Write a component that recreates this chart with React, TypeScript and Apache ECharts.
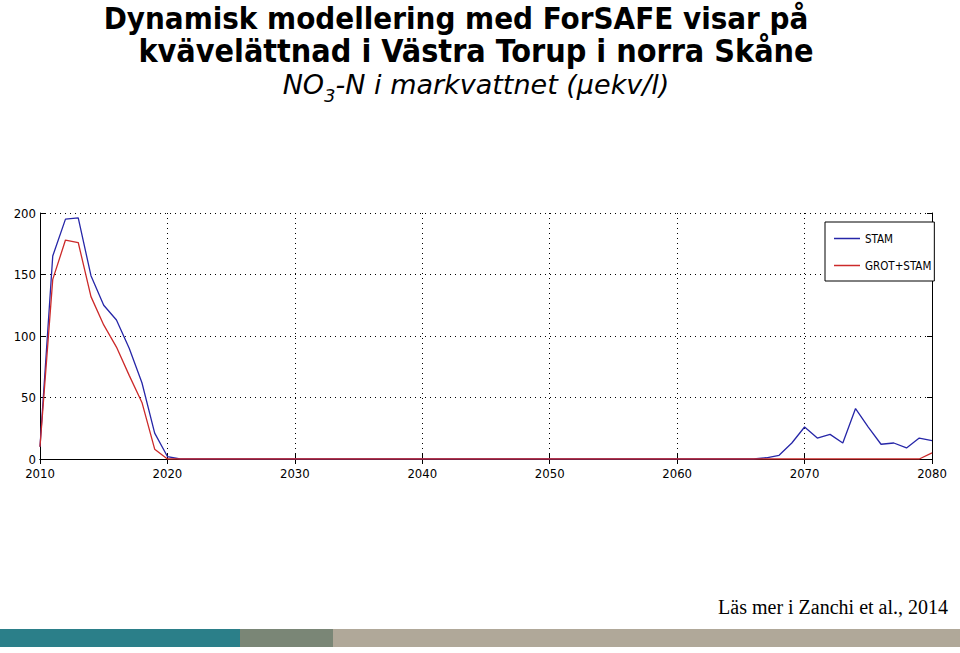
import { useEffect, useRef } from "react";
import * as echarts from "echarts";

// years 2010..2080, one value per year
const startYear = 2010;
const years = Array.from({ length: 71 }, (_, i) => startYear + i);

// STAM (blue)
const stam = [
  10, 165, 195, 196, 149, 125, 113, 90, 62, 21, // 2010-2019
  2, 0, 0, 0, 0, 0, 0, 0, 0, 0, // 2020-2029
  0, 0, 0, 0, 0, 0, 0, 0, 0, 0, // 2030-2039
  0, 0, 0, 0, 0, 0, 0, 0, 0, 0, // 2040-2049
  0, 0, 0, 0, 0, 0, 0, 0, 0, 0, // 2050-2059
  0, 0, 0, 0, 0, 0, 0, 1, 3, 13, // 2060-2069
  26, 17, 20, 13, 41, 26, 12, 13, 9, 17, // 2070-2079
  15, // 2080
];

// GROT+STAM (red)
const grotStam = [
  10, 146, 178, 176, 132, 109, 91, 68, 46, 8, // 2010-2019
  0, 0, 0, 0, 0, 0, 0, 0, 0, 0, // 2020-2029
  0, 0, 0, 0, 0, 0, 0, 0, 0, 0, // 2030-2039
  0, 0, 0, 0, 0, 0, 0, 0, 0, 0, // 2040-2049
  0, 0, 0, 0, 0, 0, 0, 0, 0, 0, // 2050-2059
  0, 0, 0, 0, 0, 0, 0, 0, 0, 0, // 2060-2069
  0, 0, 0, 0, 0, 0, 0, 0, 0, 0, // 2070-2079
  5, // 2080
];

const xTickLabels = ["2010", "2020", "2030", "2040", "2050", "2060", "2070", "2080"];
const yTickLabels = ["0", "50", "100", "150", "200"];

const narrow = "'Liberation Sans Narrow', 'DejaVu Sans Condensed', 'Roboto', sans-serif";
const titleFont = "'DejaVu Sans Condensed', 'DejaVu Sans', sans-serif";

export default function App() {
  const chartRef = useRef<HTMLDivElement>(null);

  useEffect(() => {
    if (!chartRef.current) return;
    const chart = echarts.init(chartRef.current, null, { renderer: "svg" });

    const xMin = Number(xTickLabels[0]);
    const xMax = Number(xTickLabels[xTickLabels.length - 1]);
    const yMin = Number(yTickLabels[0]);
    const yMax = Number(yTickLabels[yTickLabels.length - 1]);

    const tickStyle = { inside: true, length: 5, lineStyle: { color: "#000", width: 1 } };
    const lineAxis = { lineStyle: { color: "#000", width: 1 } };
    const labelStyle = { color: "#000", fontFamily: narrow, fontSize: 13 };
    const dotted = { show: true, lineStyle: { color: "#000", type: [1, 4], width: 1 } };
    const sub = {
      fontFamily: "'DejaVu Sans', sans-serif",
      fontStyle: "italic",
      fontWeight: "normal",
      color: "#000",
      verticalAlign: "bottom",
    };

    chart.setOption({
      animation: false,
      backgroundColor: "#fff",
      title: [
        {
          text: "Dynamisk modellering med ForSAFE visar på",
          left: 456,
          top: 2,
          textAlign: "center",
          padding: 0,
          textStyle: { fontFamily: titleFont, fontWeight: "bold", fontSize: 31, color: "#000" },
        },
        {
          text: "kvävelättnad i Västra Torup i norra Skåne",
          left: 476,
          top: 35,
          textAlign: "center",
          padding: 0,
          textStyle: { fontFamily: titleFont, fontWeight: "bold", fontSize: 32, color: "#000" },
        },
        {
          text: "{n|NO}{s|3}{n|-N i markvattnet (μekv/l)}",
          left: 476,
          top: 72,
          textAlign: "center",
          padding: 0,
          textStyle: {
            fontWeight: "normal",
            rich: {
              n: { ...sub, fontSize: 27, lineHeight: 32, padding: [0, 0, 6, 0] },
              s: { ...sub, fontSize: 18, lineHeight: 32 },
            },
          },
        },
        {
          text: "Läs mer i Zanchi et al., 2014",
          right: 12,
          top: 597,
          padding: 0,
          textStyle: {
            fontFamily: "'Liberation Serif', 'Times New Roman', serif",
            fontWeight: "normal",
            fontSize: 20,
            color: "#000",
          },
        },
      ],
      legend: {
        orient: "vertical",
        left: 825,
        top: 222,
        backgroundColor: "#fff",
        borderColor: "#000",
        borderWidth: 1,
        borderRadius: 0,
        padding: [10, 3, 9, 9],
        icon: "rect",
        itemWidth: 26,
        itemHeight: 1.5,
        itemGap: 14,
        textStyle: { fontFamily: narrow, fontSize: 11.5, lineHeight: 13, color: "#000" },
        data: ["STAM", "GROT+STAM"],
      },
      grid: { left: 40, right: 28, top: 213, bottom: 194 },
      xAxis: [
        {
          type: "value",
          position: "bottom",
          min: xMin,
          max: xMax,
          interval: 10,
          axisLine: lineAxis,
          axisTick: tickStyle,
          axisLabel: { ...labelStyle, margin: 8, formatter: (v: number) => String(v) },
          splitLine: dotted,
        },
        {
          type: "value",
          position: "top",
          min: xMin,
          max: xMax,
          interval: 10,
          axisLine: lineAxis,
          axisTick: tickStyle,
          axisLabel: { show: false },
          splitLine: { show: false },
        },
      ],
      yAxis: [
        {
          type: "value",
          position: "left",
          min: yMin,
          max: yMax,
          interval: 50,
          axisLine: { show: true, ...lineAxis },
          axisTick: { show: true, ...tickStyle },
          axisLabel: { ...labelStyle, margin: 4 },
          splitLine: dotted,
        },
        {
          type: "value",
          position: "right",
          min: yMin,
          max: yMax,
          interval: 50,
          axisLine: { show: true, ...lineAxis },
          axisTick: { show: true, ...tickStyle },
          axisLabel: { show: false },
          splitLine: { show: false },
        },
      ],
      series: [
        {
          name: "STAM",
          type: "line",
          xAxisIndex: 0,
          yAxisIndex: 0,
          symbol: "none",
          color: "#2626a8",
          lineStyle: { width: 1.3, color: "#2626a8" },
          data: years.map((y, i) => [y, stam[i]]),
        },
        {
          name: "GROT+STAM",
          type: "line",
          xAxisIndex: 0,
          yAxisIndex: 0,
          symbol: "none",
          color: "#cc2a2a",
          lineStyle: { width: 1.3, color: "#cc2a2a" },
          data: years.map((y, i) => [y, grotStam[i]]),
        },
      ],
      graphic: [
        { type: "rect", left: 0, top: 629, shape: { width: 240, height: 18 }, style: { fill: "#2b7f89" } },
        { type: "rect", left: 240, top: 629, shape: { width: 93, height: 18 }, style: { fill: "#7a8676" } },
        { type: "rect", left: 333, top: 629, shape: { width: 627, height: 18 }, style: { fill: "#b0a899" } },
      ],
    });

    return () => {
      chart.dispose();
    };
  }, []);

  return (
    <div
      ref={chartRef}
      style={{ position: "absolute", left: 0, top: 0, width: 960, height: 653 }}
    />
  );
}
